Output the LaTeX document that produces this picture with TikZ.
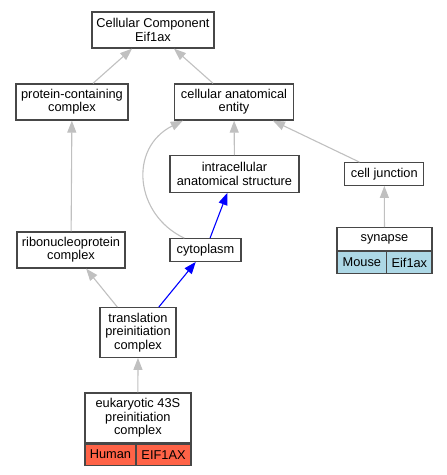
\documentclass[tikz,border=0pt]{standalone}
\usepackage{fontspec}
\setmainfont{Liberation Sans}
\usetikzlibrary{arrows.meta,positioning}
\definecolor{mouseblue}{HTML}{ADD8E6}
\definecolor{humanred}{HTML}{FF6347}
\definecolor{edgegray}{HTML}{C0C0C0}

\tikzset{
  term/.style={draw=black!72, line width=1.3pt, fill=white, inner sep=0pt,
    align=center, font=\fontsize{12.8}{13.3}\selectfont},
  gedge/.style={draw=edgegray, line width=1.1pt, -{Triangle[length=12pt,width=9pt]}},
  bedge/.style={draw=blue, line width=1.1pt, -{Triangle[length=12pt,width=9pt]}},
}

\begin{document}
\begin{tikzpicture}[x=1pt,y=-1pt]
    \useasboundingbox (0,0) rectangle (447,475);
    % Draw the terms
    \node[term, minimum width=122pt, minimum height=36pt] (cc) at (153,30) {Cellular Component\\Eif1ax};
    \node[term, minimum width=112pt, minimum height=36pt] (pcc) at (72,102) {protein-containing\\complex};
    \node[term, minimum width=119pt, minimum height=36pt] (cae) at (234,102) {cellular anatomical\\entity};
    \node[term, minimum width=129pt, minimum height=36.5pt] (ias) at (234.5,174) {intracellular\\anatomical structure};
    \node[term, minimum width=79pt, minimum height=22.5pt] (cj) at (384.3,174) {cell junction};
    \node[term, minimum width=108pt, minimum height=36pt] (rnp) at (71,250) {ribonucleoprotein\\complex};
    \node[term, minimum width=71pt, minimum height=22.5pt] (cyto) at (205.5,250) {cytoplasm};
    \node[term, minimum width=76pt, minimum height=49.5pt] (tpc) at (138,332.5) {translation\\preinitiation\\complex};
    % Terms with a gene row
    \node[term, minimum width=95pt, minimum height=22.5pt] (syn) at (384.5,239) {synapse};
    \node[term, fill=mouseblue, minimum width=49.7pt, minimum height=22pt, anchor=north west] (mouse) at (syn.south west) {Mouse};
    \node[term, fill=mouseblue, minimum width=45.3pt, minimum height=22pt, anchor=north east] (mgene) at (syn.south east) {Eif1ax};
    \node[term, minimum width=106pt, minimum height=49.7pt] (e43s) at (137.9,417.8) {eukaryotic 43S\\preinitiation\\complex};
    \node[term, fill=humanred, minimum width=51pt, minimum height=21.3pt, anchor=north west] (human) at (e43s.south west) {Human};
    \node[term, fill=humanred, minimum width=54.7pt, minimum height=21.3pt, anchor=north east] (hgene) at (e43s.south east) {EIF1AX};
    % Draw the is-a / part-of links
    \draw[gedge] (pcc) -- (cc);
    \draw[gedge] (cae) -- (cc);
    \draw[gedge] (ias) -- (cae);
    \draw[gedge] (cj) -- (cae);
    \draw[gedge] ([xshift=15pt]cyto.north west) .. controls (135,215) and (128,148) .. ([xshift=9pt]cae.south west);
    \draw[gedge] (rnp) -- (pcc);
    \draw[gedge] (syn) -- (cj);
    \draw[bedge] (cyto) -- (ias);
    \draw[gedge] (tpc) -- (rnp);
    \draw[bedge] (tpc) -- (cyto);
    \draw[gedge] (e43s) -- (tpc);
\end{tikzpicture}
\end{document}
